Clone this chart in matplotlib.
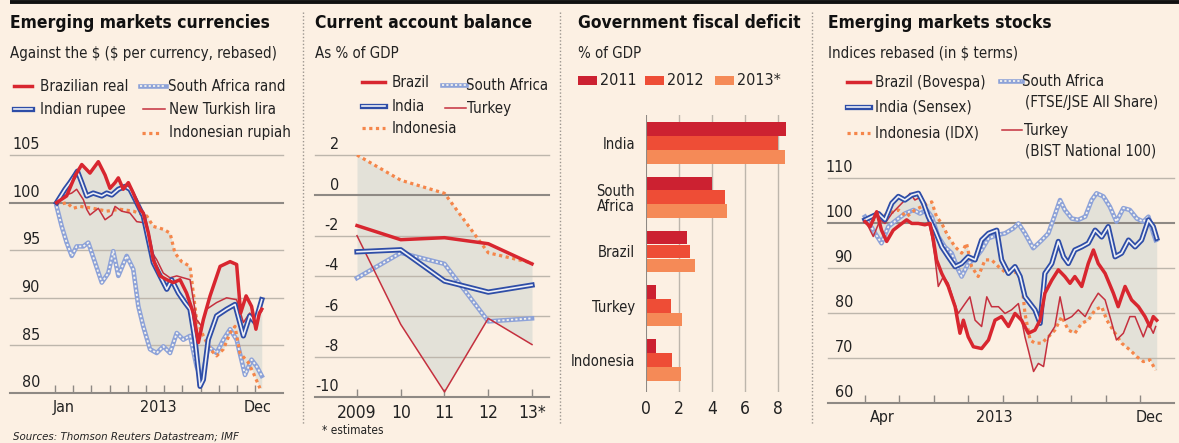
import numpy as np
import matplotlib
matplotlib.use('Agg')
import matplotlib.pyplot as plt
from matplotlib.patches import Rectangle

plt.rcParams['font.family'] = ['DejaVu Sans']
plt.rcParams['font.stretch'] = 'condensed'

# ---- currencies, 2013 (x = months since Jan 1) ----
brl_m = [0.09, 0.64, 1.10, 1.47, 1.92, 2.38, 2.75, 3.02, 3.30, 3.48, 3.75, 4.03, 4.30, 4.67, 4.85, 5.13,
         5.40, 5.77, 6.14, 6.50, 6.87, 7.23, 7.60, 7.88, 8.15, 8.52, 9.07, 9.62, 9.98, 10.20, 10.50, 10.80,
         11.04, 11.23, 11.36]
brl_v = [100.0, 100.7, 102.8, 104.0, 103.1, 104.3, 102.9, 101.5, 102.1, 102.6, 101.4, 102.1, 101.0, 99.3,
         98.9, 96.8, 94.0, 92.3, 91.9, 91.6, 91.9, 90.5, 88.4, 85.3, 87.7, 90.2, 93.3, 93.8, 93.5, 88.4,
         90.2, 89.1, 86.7, 88.4, 88.8]
inr_m = [0.09, 0.55, 0.82, 1.10, 1.23, 1.47, 1.74, 2.10, 2.57, 2.84, 3.12, 3.48, 3.85, 4.12, 4.49, 4.85,
         5.13, 5.40, 5.77, 6.14, 6.41, 6.78, 7.14, 7.42, 7.69, 7.97, 8.15, 8.42, 8.88, 9.43, 9.89, 10.35,
         10.70, 11.00, 11.36]
inr_v = [100.0, 101.4, 102.1, 102.9, 103.3, 102.1, 100.7, 101.0, 100.7, 101.0, 100.8, 101.4, 101.7, 101.4,
         100.0, 98.6, 96.1, 93.7, 92.3, 90.9, 91.9, 90.5, 89.5, 88.8, 85.6, 80.7, 81.4, 85.6, 88.1, 88.8,
         89.3, 86.0, 88.1, 87.4, 89.8]
zar_m = [0.09, 0.37, 0.64, 0.92, 1.19, 1.56, 1.83, 2.20, 2.57, 2.93, 3.20, 3.48, 3.94, 4.30, 4.58, 4.85,
         5.22, 5.59, 5.95, 6.32, 6.69, 7.05, 7.42, 7.78, 8.06, 8.42, 8.88, 9.25, 9.62, 9.98, 10.44, 10.80,
         11.08, 11.36]
zar_v = [99.6, 97.5, 95.8, 94.4, 95.4, 95.4, 95.8, 93.7, 91.6, 92.6, 94.9, 92.3, 94.4, 93.0, 89.1, 87.0,
         84.6, 84.2, 84.9, 84.2, 86.3, 85.6, 86.0, 82.8, 81.4, 84.9, 84.2, 85.6, 86.7, 85.6, 81.9, 83.5,
         82.8, 81.8]
try_m = [0.09, 0.46, 0.92, 1.19, 1.56, 1.74, 1.92, 2.38, 2.75, 3.12, 3.30, 3.66, 4.12, 4.49, 4.85, 5.22,
         5.59, 5.95, 6.32, 6.69, 7.05, 7.42, 7.78, 8.06, 8.33, 8.88, 9.43, 9.98, 10.35, 10.70, 11.08, 11.36]
try_v = [100.0, 100.7, 101.0, 101.4, 100.3, 99.3, 98.7, 99.4, 98.2, 98.7, 99.6, 99.1, 98.9, 98.0, 97.9,
         95.1, 94.0, 92.6, 92.1, 92.3, 92.1, 91.9, 87.7, 87.0, 88.8, 89.5, 90.0, 89.8, 87.4, 88.4, 87.7, 88.6]
idr_m = [0.09, 0.27, 0.64, 1.00, 1.37, 2.10, 2.84, 3.57, 4.30, 5.04, 5.40, 5.95, 6.32, 6.59, 6.96, 7.42,
         7.60, 7.78, 8.15, 8.52, 8.88, 9.25, 9.62, 9.89, 10.16, 10.62, 10.90, 11.26]
idr_v = [100.0, 99.8, 100.0, 99.4, 99.6, 99.4, 99.1, 99.3, 99.1, 98.6, 97.5, 97.2, 96.8, 94.7, 93.8, 93.3,
         90.5, 87.7, 86.0, 84.6, 83.9, 84.6, 86.3, 87.0, 84.2, 83.2, 82.1, 80.5]

# ---- current account, % of GDP ----
ca_years = [2009, 2010, 2011, 2012, 2013]
ca_year_labels = ['2009', '10', '11', '12', '13*']
ca_brazil = [-1.5, -2.2, -2.1, -2.4, -3.4]
ca_india = [-2.8, -2.7, -4.25, -4.8, -4.45]
ca_safrica = [-4.1, -2.85, -3.4, -6.25, -6.1]
ca_turkey = [-2.0, -6.4, -9.75, -6.1, -7.4]
ca_indonesia = [2.0, 0.75, 0.1, -2.85, -3.35]

# ---- fiscal deficit, % of GDP ----
fd_countries = ['India', 'South\nAfrica', 'Brazil', 'Turkey', 'Indonesia']
fd_2011 = [8.5, 4.0, 2.5, 0.6, 0.6]
fd_2012 = [8.0, 4.8, 2.65, 1.55, 1.6]
fd_2013 = [8.45, 4.9, 2.95, 2.2, 2.15]

# ---- stocks, Apr-Dec 2013 (x = months since Apr 1) ----
bov_m = [0, 0.15, 0.34, 0.48, 0.63, 0.82, 1.02, 1.21, 1.36, 1.55, 1.74, 1.89, 1.99, 2.08, 2.23, 2.42, 2.62,
         2.76, 2.86, 3.0, 3.15, 3.39, 3.59, 3.78, 3.97, 4.17, 4.36, 4.55, 4.75, 4.94, 5.09, 5.23, 5.43, 5.62,
         5.81, 5.96, 6.10, 6.30, 6.49, 6.64, 6.78, 6.98, 7.22, 7.36, 7.56, 7.75, 7.95, 8.14, 8.28, 8.38, 8.48]
bov_v = [100.3, 99.2, 102.5, 98.4, 95.9, 98.4, 99.6, 100.7, 99.9, 99.9, 99.6, 99.9, 96.2, 91.8, 88.8, 85.9,
         81.4, 75.5, 78.4, 74.7, 72.5, 72.1, 74.0, 78.4, 79.2, 77.0, 79.9, 78.4, 75.5, 76.2, 78.4, 84.4, 87.3,
         89.6, 88.1, 86.6, 88.1, 85.9, 91.0, 94.0, 91.0, 88.8, 84.4, 81.4, 85.9, 82.9, 81.4, 79.2, 77.0, 79.2,
         78.4]
sen_m = [0, 0.19, 0.39, 0.58, 0.78, 0.97, 1.16, 1.36, 1.55, 1.70, 1.84, 2.03, 2.23, 2.42, 2.62, 2.81, 3.0,
         3.2, 3.39, 3.59, 3.83, 3.97, 4.17, 4.36, 4.51, 4.65, 4.80, 4.94, 5.09, 5.23, 5.43, 5.62, 5.77, 5.91,
         6.10, 6.30, 6.49, 6.69, 6.88, 7.07, 7.27, 7.46, 7.66, 7.85, 8.04, 8.24, 8.38, 8.48]
sen_v = [100.7, 101.4, 102.1, 100.7, 104.4, 105.9, 105.1, 106.2, 106.6, 104.4, 101.4, 98.4, 94.7, 92.5,
         90.3, 91.0, 92.5, 91.8, 96.2, 97.7, 98.4, 91.8, 88.8, 90.3, 88.1, 83.6, 82.1, 80.7, 77.7, 88.8, 91.0,
         95.9, 92.5, 91.0, 94.0, 94.7, 95.5, 98.4, 96.9, 99.2, 92.5, 93.3, 96.2, 94.7, 96.2, 100.7, 99.2, 96.6]
jse_m = [0, 0.24, 0.48, 0.68, 0.92, 1.16, 1.41, 1.60, 1.79, 1.94, 2.13, 2.32, 2.52, 2.71, 2.81, 3.0, 3.2,
         3.39, 3.59, 3.83, 4.07, 4.31, 4.46, 4.65, 4.89, 5.14, 5.33, 5.52, 5.67, 5.81, 6.01, 6.20, 6.40, 6.59,
         6.73, 6.93, 7.12, 7.31, 7.51, 7.70, 7.90, 8.09, 8.24, 8.38, 8.45]
jse_v = [101.4, 98.4, 95.5, 99.2, 100.7, 102.1, 102.9, 102.1, 102.9, 101.4, 97.0, 94.7, 93.3, 89.6, 88.1,
         91.0, 92.1, 94.0, 96.6, 97.3, 97.7, 98.8, 99.9, 97.7, 94.4, 96.2, 97.7, 101.8, 105.1, 102.9, 101.0,
         100.7, 101.4, 105.1, 106.6, 105.9, 103.6, 100.3, 103.3, 102.9, 101.0, 100.3, 101.4, 97.7, 96.2]
bist_m = [0, 0.24, 0.44, 0.58, 0.78, 0.97, 1.16, 1.31, 1.45, 1.65, 1.79, 1.94, 2.03, 2.13, 2.28, 2.42, 2.57,
          2.71, 2.91, 3.05, 3.2, 3.39, 3.54, 3.68, 3.88, 4.07, 4.26, 4.46, 4.65, 4.75, 4.90, 5.04, 5.19, 5.33,
          5.52, 5.67, 5.81, 6.01, 6.20, 6.40, 6.59, 6.78, 6.98, 7.12, 7.31, 7.51, 7.70, 7.85, 8.09, 8.24, 8.38,
          8.45]
bist_v = [100.7, 97.0, 100.7, 99.9, 102.1, 103.6, 105.1, 106.6, 105.1, 105.9, 102.1, 97.0, 92.5, 85.9,
          88.1, 86.6, 82.9, 79.9, 82.1, 83.6, 78.4, 77.0, 83.6, 81.4, 81.4, 79.9, 80.7, 82.1, 74.7, 71.7,
          67.0, 68.8, 68.1, 74.7, 77.0, 83.6, 78.4, 79.2, 80.7, 79.2, 82.1, 84.4, 82.9, 79.2, 74.0, 75.5,
          79.2, 79.2, 74.7, 77.7, 75.5, 77.0]
idx_m = [0, 0.24, 0.48, 0.68, 0.97, 1.21, 1.45, 1.74, 1.94, 2.08, 2.23, 2.42, 2.62, 2.81, 2.95, 3.10, 3.29,
         3.49, 3.68, 3.88, 4.12, 4.36, 4.55, 4.65, 4.80, 4.94, 5.14, 5.33, 5.52, 5.72, 5.91, 6.10, 6.30, 6.49,
         6.69, 6.88, 7.03, 7.27, 7.46, 7.70, 7.90, 8.09, 8.28, 8.45]
idx_v = [100.7, 100.7, 101.4, 102.1, 102.9, 101.4, 102.9, 104.0, 104.7, 101.4, 99.9, 97.0, 94.7, 93.3, 95.5,
         90.3, 88.1, 91.8, 91.8, 90.3, 88.8, 89.2, 87.3, 79.9, 74.0, 73.3, 73.3, 74.7, 76.2, 79.2, 76.2, 75.5,
         77.7, 78.4, 80.7, 81.4, 78.4, 75.5, 73.3, 71.8, 70.3, 69.2, 69.6, 67.3]

W, H = 1179, 443
BG = '#FCF0E3'
SHADE = '#E3E1D8'
GRID = '#BDB6AC'
BASE = '#8E8984'
RED = '#D8262F'
TRK = '#C5303E'
BLUE = '#2E4DA7'
SAB = '#8DA2D8'
ORG = '#F5864A'
TXT = '#222222'
FS = 10.8      # legend / subtitle text
TFS = 11.5     # axis numbers

fig = plt.figure(figsize=(W / 100, H / 100), dpi=100, facecolor=BG)


def brazil(ax, x, y):
    ax.plot(x, y, color=RED, lw=2.5, solid_joinstyle='round', zorder=6)


def india(ax, x, y):
    ax.plot(x, y, color=BLUE, lw=3.8, solid_joinstyle='round', zorder=5)
    ax.plot(x, y, color='#EEF0F6', lw=1.2, solid_joinstyle='round', zorder=5)


def safrica(ax, x, y):
    ax.plot(x, y, color=SAB, lw=3.3, solid_joinstyle='round', zorder=3)
    ax.plot(x, y, color='#F5F3EE', lw=1.3, ls=(0, (1.2, 1.2)), zorder=3)


def turkey(ax, x, y):
    ax.plot(x, y, color=TRK, lw=1.1, zorder=4)


def indonesia(ax, x, y):
    ax.plot(x, y, color=ORG, lw=2.3, ls=(0, (1, 1.1)), zorder=4)


def panel(x0, y0, x1, y1):
    ax = fig.add_axes([x0 / W, 1 - y1 / H, (x1 - x0) / W, (y1 - y0) / H])
    ax.set_facecolor('none')
    for s in ax.spines.values():
        s.set_visible(False)
    ax.set_yticks([])
    return ax


def line_frame(ax, ylo, yhi, grid, base, lab_x, xlim):
    ax.set_xlim(*xlim)
    ax.set_ylim(ylo, yhi)
    for v in grid:
        ax.axhline(v, color=BASE if v == base else GRID, lw=1.5 if v == base else 1,
                   zorder=1, clip_on=False)
    ax.axhline(ylo, color=BASE, lw=1.5, zorder=1, clip_on=False)
    for v in grid + [ylo]:
        ax.annotate(str(v), xy=(lab_x, v), xycoords=('axes fraction', 'data'), xytext=(0, 2),
                    textcoords='offset points', ha='right', va='bottom', fontsize=TFS, color=TXT)
    ax.tick_params(axis='x', which='both', direction='in', length=6, color=BASE, width=1,
                   labelbottom=False)


def xlabels(ax, pos, labs, size=TFS):
    for p, l in zip(pos, labs):
        ax.annotate(l, xy=(p, 0), xycoords=('data', 'axes fraction'), xytext=(0, -5),
                    textcoords='offset points', ha='center', va='top', fontsize=size, color=TXT)


def shade(ax, series, x0, x1):
    xs = np.linspace(x0, x1, 800)
    ys = np.array([np.interp(xs, x, y) for x, y in series])
    ax.fill_between(xs, ys.min(0), ys.max(0), color=SHADE, lw=0, zorder=0.5)


# ---------- panel 1: currencies ----------
ax1 = panel(10, 155, 283, 393)
line_frame(ax1, 80, 105, [105, 100, 95, 90, 85], 100, (40 - 10) / 273,
           ((10 - 55) / 18.2, (283 - 55) / 18.2))
ax1.set_xticks(range(12))
xlabels(ax1, [0.5, 5.66, 11.15], ['Jan', '2013', 'Dec'])
cur = [(brl_m, brl_v), (inr_m, inr_v), (zar_m, zar_v), (try_m, try_v), (idr_m, idr_v)]
shade(ax1, cur, 0.09, 11.36)
safrica(ax1, zar_m, zar_v)
indonesia(ax1, idr_m, idr_v)
turkey(ax1, try_m, try_v)
india(ax1, inr_m, inr_v)
brazil(ax1, brl_m, brl_v)

# ---------- panel 2: current account ----------
ax2 = panel(315, 155, 549, 397)
line_frame(ax2, -10, 2, [2, 0, -2, -4, -6, -8], 0, (339 - 315) / 234,
           (2009 + (315 - 357) / 43.75, 2009 + (549 - 357) / 43.75))
ax2.set_xticks(ca_years)
xlabels(ax2, ca_years, ca_year_labels, size=12.5)
ca = [(ca_years, ca_brazil), (ca_years, ca_india), (ca_years, ca_safrica),
      (ca_years, ca_turkey), (ca_years, ca_indonesia)]
shade(ax2, ca, 2009, 2013)
safrica(ax2, ca_years, ca_safrica)
indonesia(ax2, ca_years, ca_indonesia)
turkey(ax2, ca_years, ca_turkey)
india(ax2, ca_years, ca_india)
brazil(ax2, ca_years, ca_brazil)

# ---------- panel 3: fiscal deficit ----------
ax3 = panel(646, 115, 794, 392)
ax3.set_xlim(0, 9)
ax3.set_ylim(4.59, -0.516)
for v in [2, 4, 6, 8]:
    ax3.axvline(v, color=GRID, lw=1, zorder=0.5)
ax3.axvline(0, color=BASE, lw=1.5, zorder=3)
g = np.arange(len(fd_countries))
bh = 0.25
ax3.barh(g - 0.255, fd_2011, height=bh, color='#CC2131', zorder=2)
ax3.barh(g, fd_2012, height=bh, color='#EE4D36', zorder=2)
ax3.barh(g + 0.255, fd_2013, height=bh, color='#F58A57', zorder=2)
ax3.set_yticks(g, fd_countries, fontsize=10.6, color=TXT, linespacing=1.0)
ax3.tick_params(axis='y', length=0, pad=8)
ax3.set_xticks([0, 2, 4, 6, 8])
ax3.tick_params(axis='x', length=0, labelsize=12.5, labelcolor=TXT, pad=6)

# ---------- panel 4: stocks ----------
ax4 = panel(828, 178, 1174, 403)
line_frame(ax4, 60, 110, [110, 100, 90, 80, 70], 100, (853 - 828) / 346,
           ((828 - 865) / 34.4, (1174 - 865) / 34.4))
ax4.set_xticks(range(9))
xlabels(ax4, [0.5, 3.75, 8.26], ['Apr', '2013', 'Dec'])
stk = [(bov_m, bov_v), (sen_m, sen_v), (jse_m, jse_v), (bist_m, bist_v), (idx_m, idx_v)]
shade(ax4, stk, 0, 8.48)
safrica(ax4, jse_m, jse_v)
indonesia(ax4, idx_m, idx_v)
turkey(ax4, bist_m, bist_v)
india(ax4, sen_m, sen_v)
brazil(ax4, bov_m, bov_v)

# ---------- overlay: titles, legends, rules ----------
ov = fig.add_axes([0, 0, 1, 1])
ov.set_xlim(0, W)
ov.set_ylim(H, 0)
ov.axis('off')

ov.plot([10, W], [2, 2], color='#111111', lw=2.8, solid_capstyle='butt')
for sx in [303, 560, 812]:
    ov.plot([sx, sx], [12, 425], color='#9C968F', lw=1, ls=(0, (1, 1.5)))


def title(x, t, sub):
    ov.text(x, 23, t, fontsize=12.5, fontweight='bold', color='#111111', va='center')
    ov.text(x, 53, sub, fontsize=FS, color=TXT, va='center')


title(10, 'Emerging markets currencies', r'Against the \$ (\$ per currency, rebased)')
title(315, 'Current account balance', 'As % of GDP')
title(578, 'Government fiscal deficit', '% of GDP')
title(828, 'Emerging markets stocks', r'Indices rebased (in \$ terms)')


def leg(fn, x0, x1, y, lab, tx):
    fn(ov, [x0, x1], [y, y])
    ov.text(tx, y, lab, fontsize=FS, color=TXT, va='center')


leg(brazil, 14, 32, 86, 'Brazilian real', 40)
leg(india, 14, 32, 109, 'Indian rupee', 40)
leg(safrica, 140, 166, 86, 'South Africa rand', 168)
leg(turkey, 143, 165, 109, 'New Turkish lira', 169)
leg(indonesia, 142, 162, 133, 'Indonesian rupiah', 169)

leg(brazil, 362, 385, 82, 'Brazil', 392)
leg(india, 362, 385, 106, 'India', 392)
leg(indonesia, 362, 385, 128, 'Indonesia', 392)
leg(safrica, 442, 466, 85, 'South Africa', 466)
leg(turkey, 445, 466, 108, 'Turkey', 467)

for x0, col, lab in [(578, '#CC2131', '2011'), (645, '#EE4D36', '2012'), (715, '#F58A57', '2013*')]:
    ov.add_patch(Rectangle((x0, 76), 19, 9, color=col, lw=0))
    ov.text(x0 + 22, 80, lab, fontsize=11.5, color=TXT, va='center')

leg(brazil, 847, 870, 82, 'Brazil (Bovespa)', 875)
leg(india, 847, 870, 107, 'India (Sensex)', 875)
leg(indonesia, 847, 870, 133, 'Indonesia (IDX)', 875)
leg(safrica, 1000, 1022, 81, 'South Africa', 1022)
ov.text(1025, 102, '(FTSE/JSE All Share)', fontsize=FS, color=TXT, va='center')
leg(turkey, 1002, 1022, 130, 'Turkey', 1024)
ov.text(1025, 151, '(BIST National 100)', fontsize=FS, color=TXT, va='center')

ov.text(322, 430, '* estimates', fontsize=8.6, color=TXT, va='center')
ov.text(13, 437, 'Sources: Thomson Reuters Datastream; IMF', fontsize=8.2, style='italic',
        color=TXT, va='center')

fig.savefig('out.png', dpi=100, facecolor=BG)
